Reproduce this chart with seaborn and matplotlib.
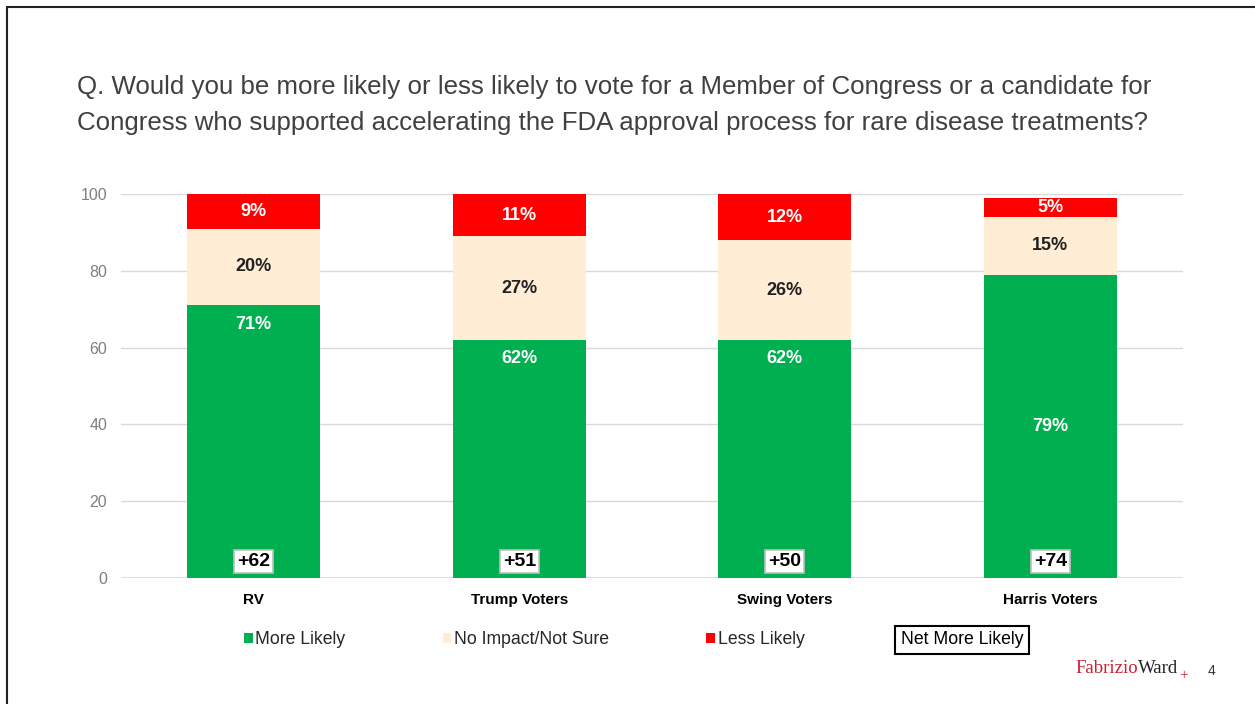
import numpy as np
import pandas as pd
import seaborn as sns
from matplotlib import pyplot as plt
from matplotlib.patches import Patch
from matplotlib.lines import Line2D

# chart values
groups = ["RV", "Trump Voters", "Swing Voters", "Harris Voters"]
more_likely = [71, 62, 62, 79]
no_impact = [20, 27, 26, 15]
less_likely = [9, 11, 12, 5]

series = ["More Likely", "No Impact/Not Sure", "Less Likely"]
colors = ["#00b050", "#ffedd5", "#ff0000"]
label_colors = ["white", "#222222", "white"]

df = pd.DataFrame({"group": groups, "More Likely": more_likely,
                   "No Impact/Not Sure": no_impact, "Less Likely": less_likely})
df["net"] = df["More Likely"] - df["Less Likely"]

sns.set_theme(style="white")
plt.rcParams["font.family"] = ["Liberation Sans", "DejaVu Sans"]

fig = plt.figure(figsize=(12.55, 7.04), dpi=100)
ax = fig.add_axes([121 / 1255, 1 - 578 / 704, 1062 / 1255, 384 / 704])

# stacked bars, drawn from the top of the stack downward so seaborn overlays them
cum = df[series].cumsum(axis=1)
for i in reversed(range(len(series))):
    sns.barplot(x=df["group"], y=cum[series[i]], color=colors[i], width=0.5,
                ax=ax, saturation=1, linewidth=0, zorder=2)

# segment labels
bottoms = cum[series].shift(1, axis=1).fillna(0)
for j in range(len(groups)):
    for i, s in enumerate(series):
        val = df[s][j]
        lo = bottoms[s][j]
        if i == 0 and val < 75:
            # green label sits near the top so it clears the net box
            ax.annotate(f"{val}%", (j, lo + val), xytext=(0, -13.5), textcoords="offset points",
                        ha="center", va="center", color=label_colors[i],
                        fontsize=13, fontweight="bold", zorder=4)
        else:
            ax.text(j, lo + val / 2, f"{val}%", ha="center", va="center",
                    color=label_colors[i], fontsize=13, fontweight="bold", zorder=4)
    # net box
    ax.annotate(f"+{df['net'][j]}", (j, 0), xytext=(0, 12), textcoords="offset points",
                ha="center", va="center", fontsize=14, fontweight="bold", color="black",
                bbox=dict(boxstyle="square,pad=0.15", fc="white", ec="#bfbfbf", lw=1.2),
                zorder=5)

ax.set_ylim(0, 100)
ax.set_xlim(-0.5, 3.5)
ax.set_yticks(range(0, 101, 20))
ax.yaxis.grid(True, color="#d9d9d9", lw=1)
ax.set_axisbelow(True)
for sp in ax.spines.values():
    sp.set_visible(False)
ax.axhline(0, color="#d9d9d9", lw=1.2, zorder=1)
ax.set_xlabel("")
ax.set_ylabel("")
ax.tick_params(axis="y", colors="#7f7f7f", labelsize=11.5, length=0, pad=10)
ax.tick_params(axis="x", colors="black", labelsize=11, length=0, pad=11)
for t in ax.get_xticklabels():
    t.set_fontweight("bold")

# title
fig.text(77 / 1255, 1 - 105 / 704,
         "Q. Would you be more likely or less likely to vote for a Member of Congress or a candidate for\n"
         "Congress who supported accelerating the FDA approval process for rare disease treatments?",
         ha="left", va="center", fontsize=18.6, color="#404040", linespacing=1.6)

# legend
handles = [Patch(facecolor=c, edgecolor="none") for c in colors]
fig.legend(handles, series, loc="center left", bbox_to_anchor=(244 / 1255, 1 - 640 / 704),
           ncol=3, frameon=False, fontsize=12.7, handlelength=0.5, handleheight=0.5,
           handletextpad=0.15, columnspacing=5.5, borderpad=0, borderaxespad=0)
fig.text(962 / 1255, 1 - 640 / 704, "Net More Likely", ha="center", va="center",
         fontsize=12.7, color="black",
         bbox=dict(boxstyle="square,pad=0.3", fc="white", ec="black", lw=1.5))

# logo and page number
serif = ["Liberation Serif", "DejaVu Serif"]
fab = fig.text(1075 / 1255, 1 - 673 / 704, "Fabrizio", ha="left", va="baseline",
               family=serif, fontsize=13.5, color="#c8202f")
ward = fig.add_artist(plt.Annotation("Ward", xy=(1, 0), xycoords=fab, ha="left", va="bottom",
                                     family=serif, fontsize=13.5, color="#222222"))
fig.add_artist(plt.Annotation("+", xy=(1, 0), xycoords=ward, xytext=(1, -4),
                              textcoords="offset points", ha="left", va="bottom",
                              family=serif, fontsize=11, color="#c8202f"))
fig.text(1212 / 1255, 1 - 671 / 704, "4", ha="center", va="center", fontsize=10, color="#333333")

# slide border
fig.add_artist(Line2D([7 / 1255, 7 / 1255], [0, 1 - 7 / 704], color="#222222", lw=1.5))
fig.add_artist(Line2D([7 / 1255, 1], [1 - 7 / 704, 1 - 7 / 704], color="#222222", lw=1.5))

plt.savefig("out.png", dpi=100)
